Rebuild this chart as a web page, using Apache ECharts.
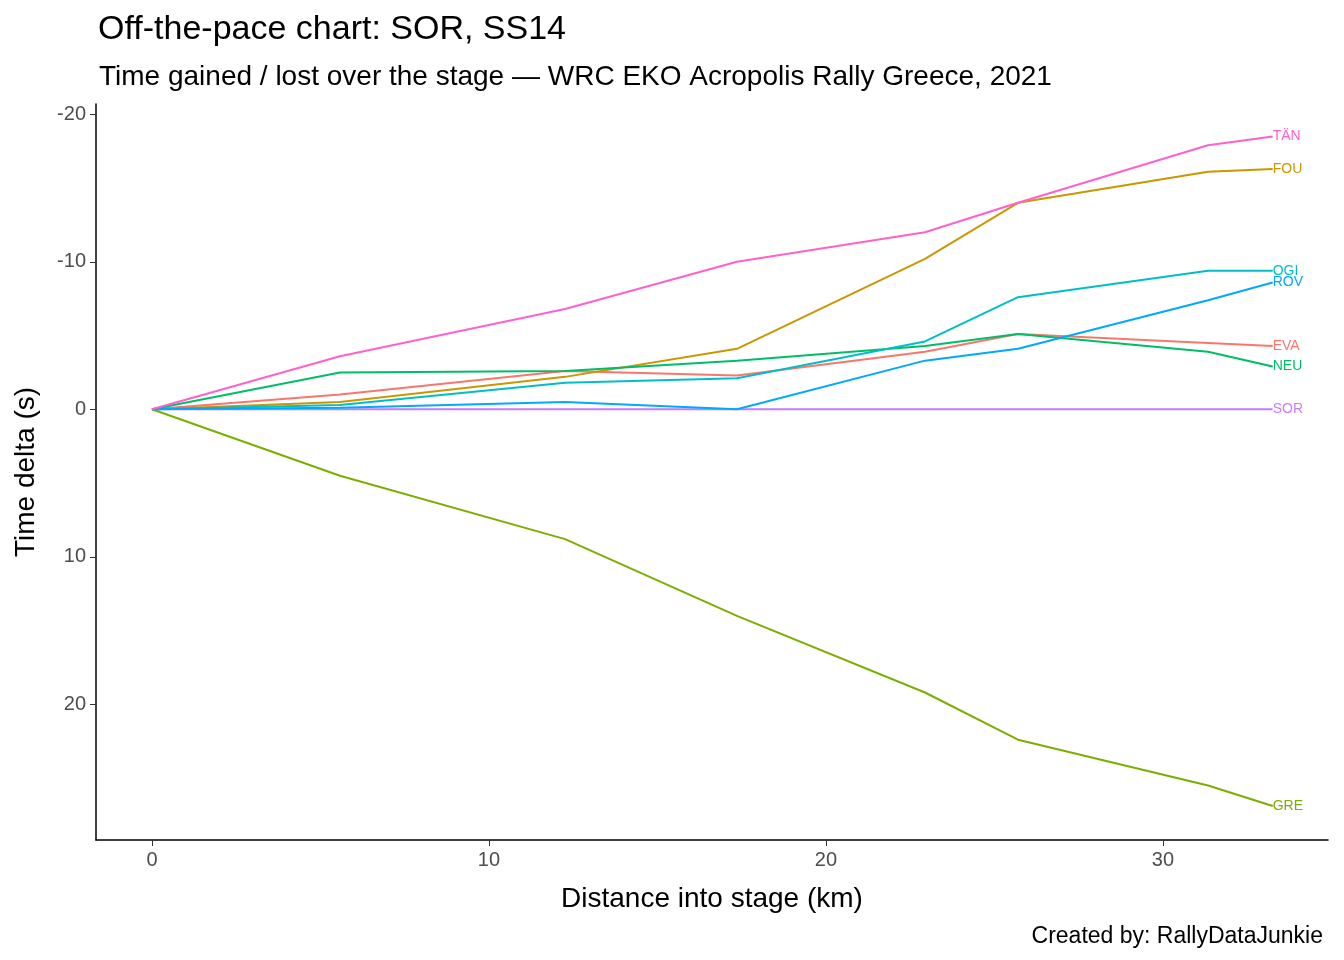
<!DOCTYPE html>
<html><head><meta charset="utf-8">
<script src="https://cdn.jsdelivr.net/npm/echarts@6/dist/echarts.min.js"></script>
<style>body{margin:0;background:#fff}#c{width:1344px;height:960px}</style>
</head><body><div id="c"></div>
<script>
// split distances (km)
var distances = [0, 5.58, 12.26, 17.36, 22.94, 25.7, 31.34, 33.26];
var drivers = ['EVA', 'FOU', 'GRE', 'NEU', 'OGI', 'ROV', 'SOR', 'TÄN'];
var colors = ['#F8766D', '#CD9600', '#7CAE00', '#00BE67', '#00BFC4', '#00A9FF', '#C77CFF', '#FF61CC'];
// time delta (s) relative to SOR
var deltaEVA = [0, -1.0, -2.6, -2.3, -3.9, -5.1, -4.5, -4.3];
var deltaFOU = [0, -0.5, -2.2, -4.1, -10.2, -14.0, -16.1, -16.3];
var deltaGRE = [0, 4.5, 8.8, 14.0, 19.2, 22.4, 25.5, 26.9];
var deltaNEU = [0, -2.5, -2.6, -3.3, -4.3, -5.1, -3.9, -2.9];
var deltaOGI = [0, -0.3, -1.8, -2.1, -4.6, -7.6, -9.4, -9.4];
var deltaROV = [0, -0.1, -0.5, 0, -3.3, -4.1, -7.4, -8.6];
var deltaSOR = [0, 0, 0, 0, 0, 0, 0, 0];
var deltaTAN = [0, -3.6, -6.8, -10.0, -12.0, -14.0, -17.9, -18.5];
var xTicks = [0, 10, 20, 30];
var yTicks = [-20, -10, 0, 10, 20];

var deltas = [deltaEVA, deltaFOU, deltaGRE, deltaNEU, deltaOGI, deltaROV, deltaSOR, deltaTAN];
var font = 'Liberation Sans, Arial, sans-serif';

var series = drivers.map(function (d, i) {
    return {
        name: d, type: 'line', showSymbol: false, silent: true,
        z: d === 'SOR' ? 1 : 2,
        data: distances.map(function (x, j) { return [x, deltas[i][j]]; }),
        lineStyle: { width: 2, color: colors[i] },
        itemStyle: { color: colors[i] },
        endLabel: { show: true, formatter: d, color: colors[i], fontSize: 14, fontFamily: font, distance: 0,
                    backgroundColor: d === 'SOR' ? '#fff' : 'transparent' }
    };
});

var chart = echarts.init(document.getElementById('c'));
chart.setOption({
    animation: false,
    textStyle: { fontFamily: font },
    title: [
        { text: 'Off-the-pace chart: SOR, SS14', left: 93, top: 8, textStyle: { fontSize: 34, fontWeight: 'normal', color: '#000', fontFamily: font } },
        { text: 'Time gained / lost over the stage — WRC EKO Acropolis Rally Greece, 2021', left: 94, top: 58, textStyle: { fontSize: 28, fontWeight: 'normal', color: '#000', fontFamily: font } },
        { text: 'Created by: RallyDataJunkie', right: 16, top: 920, textStyle: { fontSize: 23, fontWeight: 'normal', color: '#000', fontFamily: font } }
    ],
    grid: { left: 96, right: 16, top: 104, bottom: 120 },
    xAxis: {
        type: 'value', min: -1.66, max: 34.9,
        name: 'Distance into stage (km)', nameLocation: 'middle', nameGap: 45,
        nameTextStyle: { fontSize: 28, color: '#000' },
        axisLine: { onZero: false, lineStyle: { color: '#000', width: 1.5 } },
        axisTick: { show: true, length: 6, customValues: xTicks, lineStyle: { color: '#333' } },
        axisLabel: { customValues: xTicks, fontSize: 20, color: '#4d4d4d', margin: 10 },
        splitLine: { show: false }
    },
    yAxis: {
        type: 'value', inverse: true, min: -20.7, max: 29.2,
        name: 'Time delta (s)', nameLocation: 'middle', nameGap: 56, nameRotate: 90,
        nameTextStyle: { fontSize: 28, color: '#000' },
        axisLine: { show: true, onZero: false, lineStyle: { color: '#000', width: 1.5 } },
        axisTick: { show: true, length: 6, customValues: yTicks, lineStyle: { color: '#333' } },
        axisLabel: { customValues: yTicks, fontSize: 20, color: '#4d4d4d', margin: 10 },
        splitLine: { show: false }
    },
    series: series
});
</script></body></html>
